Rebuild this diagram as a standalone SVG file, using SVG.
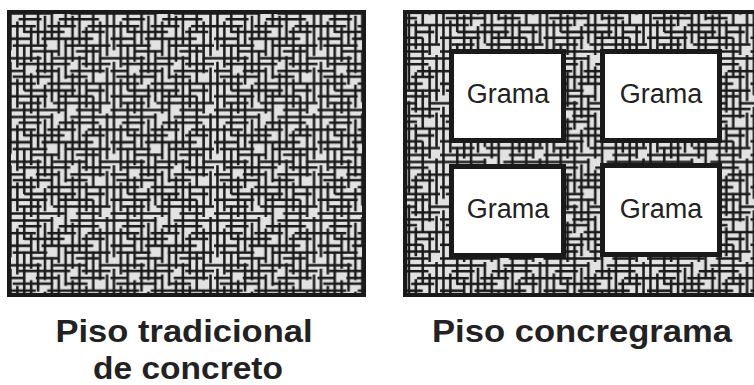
<svg xmlns="http://www.w3.org/2000/svg" width="754" height="385" viewBox="0 0 754 385">
<style>
.tex{stroke:#1a1a1a;stroke-width:2.2;fill:none;stroke-linecap:butt}
.frame{stroke:#1a1a1a;stroke-width:4}
.grass{fill:#ffffff;stroke:#1a1a1a;stroke-width:5}
.lbl{font-family:"Liberation Sans",Arial,sans-serif;font-size:27px;fill:#222;text-anchor:middle}
.cap{font-family:"Liberation Sans",Arial,sans-serif;font-size:31px;font-weight:bold;fill:#222;text-anchor:middle}
</style>
<defs>
<pattern id="concrete" patternUnits="userSpaceOnUse" width="90" height="90" patternTransform="translate(7 10) scale(1.15)">
<rect width="90" height="90" fill="#e2e2e2"/>
<path class="tex" d="M0 3h40M55 3h35M10 8h20M45 8h35M0 14h25M35 14h25M70 14h20M15 19h35M65 19h20M0 25h20M30 25h45M5 31h30M50 31h40M20 36h25M60 36h20M0 42h30M40 42h30M80 42h10M10 47h45M65 47h25M0 53h15M25 53h20M55 53h30M5 58h35M50 58h20M0 64h25M35 64h55M15 70h45M70 70h15M0 75h35M45 75h30M10 81h20M40 81h50M0 87h50M60 87h20"/>
<path class="tex" d="M3 0v35M3 45v45M9 10v40M9 60v25M15 0v20M15 30v40M15 80v10M21 15v30M21 55v35M27 0v30M27 40v25M27 75v15M33 5v50M33 65v20M39 0v25M39 35v45M45 10v30M45 50v40M51 0v15M51 25v35M51 70v20M57 5v40M57 55v20M63 0v30M63 40v50M69 15v35M69 60v25M75 0v20M75 30v35M75 75v15M81 10v45M81 65v25M87 0v40M87 50v30"/>
</pattern>
<pattern id="concrete2" href="#concrete" patternTransform="translate(440 55) scale(1.15)"/>
</defs>
<g id="traditional">
<rect class="frame" x="9" y="12" width="355" height="283" fill="url(#concrete)"/>
</g>
<g id="concregrama">
<rect class="frame" x="405" y="12" width="354" height="283" fill="url(#concrete2)"/>
</g>
<g id="grass1"><rect class="grass" x="451.5" y="51.5" width="112" height="89"/><text class="lbl" x="508" y="103">Grama</text></g>
<g id="grass2"><rect class="grass" x="602.5" y="51.5" width="117" height="89"/><text class="lbl" x="661" y="103">Grama</text></g>
<g id="grass3"><rect class="grass" x="451.5" y="166.5" width="112" height="89"/><text class="lbl" x="508" y="218">Grama</text></g>
<g id="grass4"><rect class="grass" x="602.5" y="165.5" width="117" height="89"/><text class="lbl" x="661" y="218">Grama</text></g>
<g id="captions">
<text class="cap" x="184" y="342" textLength="257" lengthAdjust="spacingAndGlyphs">Piso tradicional</text>
<text class="cap" x="188" y="379" textLength="190" lengthAdjust="spacingAndGlyphs">de concreto</text>
<text class="cap" x="582" y="342" textLength="300" lengthAdjust="spacingAndGlyphs">Piso concregrama</text>
</g>
</svg>
